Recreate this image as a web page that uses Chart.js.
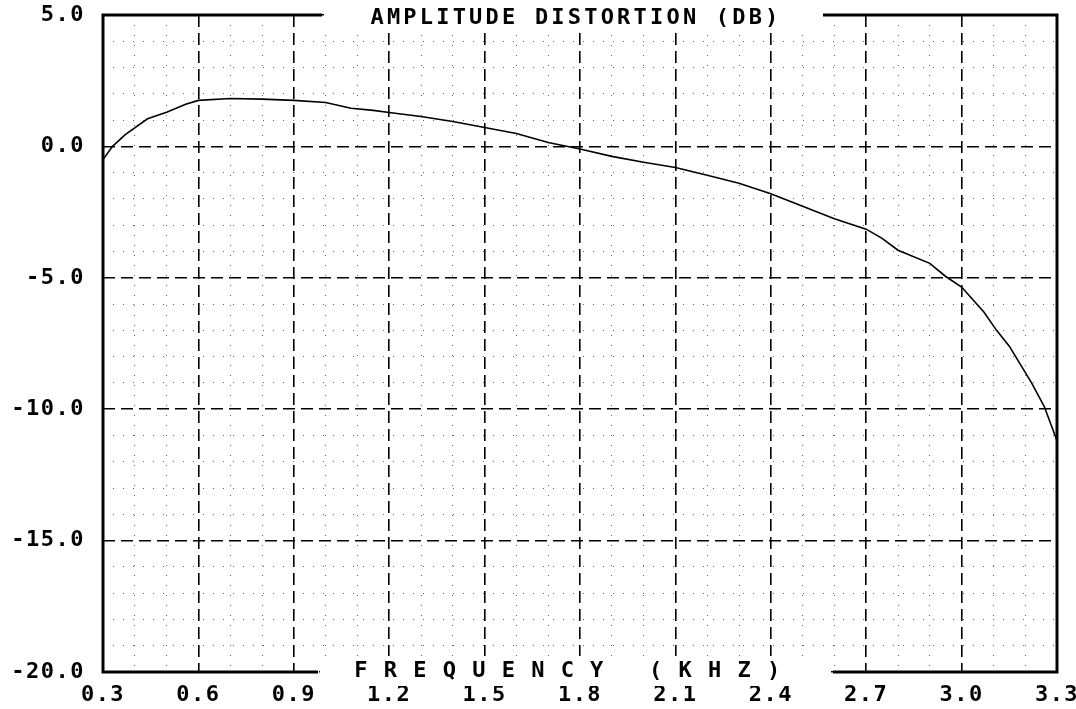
<!DOCTYPE html>
<html>
<head>
<meta charset="utf-8">
<script src="https://cdn.jsdelivr.net/npm/chart.js@4.4.1/dist/chart.umd.min.js"></script>
<style>
html,body{margin:0;padding:0;background:#fff;overflow:hidden}
#wrap{width:1076px;height:709px;position:relative;background:#fff}
canvas{display:block}
</style>
</head>
<body>
<div id="wrap"><canvas id="c" width="1076" height="709"></canvas></div>
<script>
// ---- data ----
const chartTitle = 'AMPLITUDE DISTORTION (DB)';
const xAxisTitle = 'F R E Q U E N C Y   ( K H Z )';

const frequencyKHz = [0.30,0.33,0.37,0.44,0.50,0.56,0.60,0.70,0.80,0.90,1.00,1.08,1.15,1.20,1.30,1.40,1.50,1.60,1.70,1.80,1.90,2.00,2.10,2.20,2.30,2.40,2.50,2.60,2.70,2.75,2.80,2.90,2.95,3.00,3.07,3.11,3.15,3.20,3.22,3.26,3.30];
const distortionDB = [-0.5,0.0,0.45,1.05,1.3,1.6,1.75,1.82,1.8,1.75,1.67,1.45,1.37,1.29,1.14,0.95,0.72,0.49,0.15,-0.1,-0.38,-0.6,-0.8,-1.1,-1.4,-1.8,-2.28,-2.75,-3.15,-3.5,-3.95,-4.45,-4.95,-5.35,-6.3,-7.0,-7.6,-8.6,-9.0,-9.9,-11.2];

const xTickValues = [0.3,0.6,0.9,1.2,1.5,1.8,2.1,2.4,2.7,3.0,3.3];
const yTickValues = [-20,-15,-10,-5,0,5];
const xMinorValues = [0.4,0.5,0.7,0.8,1.0,1.1,1.3,1.4,1.6,1.7,1.9,2.0,2.2,2.3,2.5,2.6,2.8,2.9,3.1,3.2];
const yMinorValues = [-19,-18,-17,-16,-14,-13,-12,-11,-9,-8,-7,-6,-4,-3,-2,-1,1,2,3,4];

// ---- chart ----
const FONT = '"DejaVu Sans Mono", "Liberation Mono", monospace';
const tickFont = {family: FONT, size: 22, weight: 'bold', lineHeight: 1.2};

const framePlugin = {
  id: 'frame',
  beforeDraw(chart) {
    const ctx = chart.ctx;
    ctx.save();
    ctx.fillStyle = '#fff';
    ctx.fillRect(0, 0, chart.width, chart.height);
    ctx.restore();
    ctx.letterSpacing = '1.5px';
  },
  afterDraw(chart) {
    const ctx = chart.ctx;
    const a = chart.chartArea;
    ctx.save();
    // white boxes behind titles
    ctx.fillStyle = '#fff';
    ctx.fillRect(324, a.top - 12, 497, 30);
    ctx.fillRect(320, a.bottom - 16, 511, 30);
    // frame with gaps
    ctx.strokeStyle = '#000';
    ctx.lineWidth = 3;
    ctx.setLineDash([]);
    ctx.beginPath();
    ctx.moveTo(a.left, a.top); ctx.lineTo(a.left, a.bottom);
    ctx.moveTo(a.right, a.top); ctx.lineTo(a.right, a.bottom);
    ctx.moveTo(a.left - 1.5, a.top); ctx.lineTo(322, a.top);
    ctx.moveTo(823, a.top); ctx.lineTo(a.right + 1.5, a.top);
    ctx.moveTo(a.left - 1.5, a.bottom); ctx.lineTo(318, a.bottom);
    ctx.moveTo(833, a.bottom); ctx.lineTo(a.right + 1.5, a.bottom);
    ctx.stroke();
    // titles
    ctx.fillStyle = '#000';
    ctx.textAlign = 'center';
    ctx.textBaseline = 'middle';
    ctx.font = 'bold 22px ' + FONT;
    ctx.letterSpacing = '3.2px';
    ctx.fillText(chartTitle, 576, a.top + 3);
    ctx.letterSpacing = '1.5px';
    ctx.fillText(xAxisTitle, 568, a.bottom - 1);
    ctx.restore();
    ctx.letterSpacing = '0px';
  }
};

const majorGrid = {color: '#000', lineWidth: 1.6, drawTicks: false};
const minorGrid = {color: '#666', lineWidth: 1, drawTicks: false};

new Chart(document.getElementById('c'), {
  type: 'line',
  data: {
    datasets: [{
      data: frequencyKHz.map((f, i) => ({x: f, y: distortionDB[i]})),
      borderColor: '#000',
      borderWidth: 1.6,
      pointRadius: 0,
      tension: 0,
      fill: false,
      xAxisID: 'x',
      yAxisID: 'y'
    }]
  },
  options: {
    responsive: false,
    animation: false,
    devicePixelRatio: 1,
    layout: {padding: {top: 15, right: 19, left: 0, bottom: 0}},
    plugins: {legend: {display: false}, tooltip: {enabled: false}, title: {display: false}},
    scales: {
      xMinor: {
        type: 'linear', position: 'bottom', min: 0.3, max: 3.3, z: -1,
        afterBuildTicks: s => { s.ticks = xMinorValues.map(v => ({value: v})); },
        ticks: {display: false},
        grid: minorGrid,
        border: {display: false, dash: [1, 9]},
        afterFit: s => { s.height = 0; s.paddingLeft = 0; s.paddingRight = 0; }
      },
      yMinor: {
        type: 'linear', position: 'left', min: -20, max: 5, z: -1,
        afterBuildTicks: s => { s.ticks = yMinorValues.map(v => ({value: v})); },
        ticks: {display: false},
        grid: minorGrid,
        border: {display: false, dash: [1, 9]},
        afterFit: s => { s.width = 0; s.paddingTop = 0; s.paddingBottom = 0; }
      },
      x: {
        type: 'linear', position: 'bottom', min: 0.3, max: 3.3,
        afterBuildTicks: s => { s.ticks = xTickValues.map(v => ({value: v})); },
        ticks: {
          callback: v => v.toFixed(1),
          font: tickFont, color: '#000', padding: 10,
          maxRotation: 0, autoSkip: false
        },
        grid: majorGrid,
        border: {display: false, dash: [12, 6]},
        afterFit: s => { s.height = 37; s.paddingLeft = 0; s.paddingRight = 0; }
      },
      y: {
        type: 'linear', position: 'left', min: -20, max: 5,
        afterBuildTicks: s => { s.ticks = yTickValues.map(v => ({value: v})); },
        ticks: {
          callback: v => v.toFixed(1),
          font: tickFont, color: '#000', padding: 18
        },
        grid: majorGrid,
        border: {display: false, dash: [12, 6]},
        afterFit: s => { s.width = 103; s.paddingTop = 0; s.paddingBottom = 0; }
      }
    }
  },
  plugins: [framePlugin]
});
</script>
</body>
</html>
